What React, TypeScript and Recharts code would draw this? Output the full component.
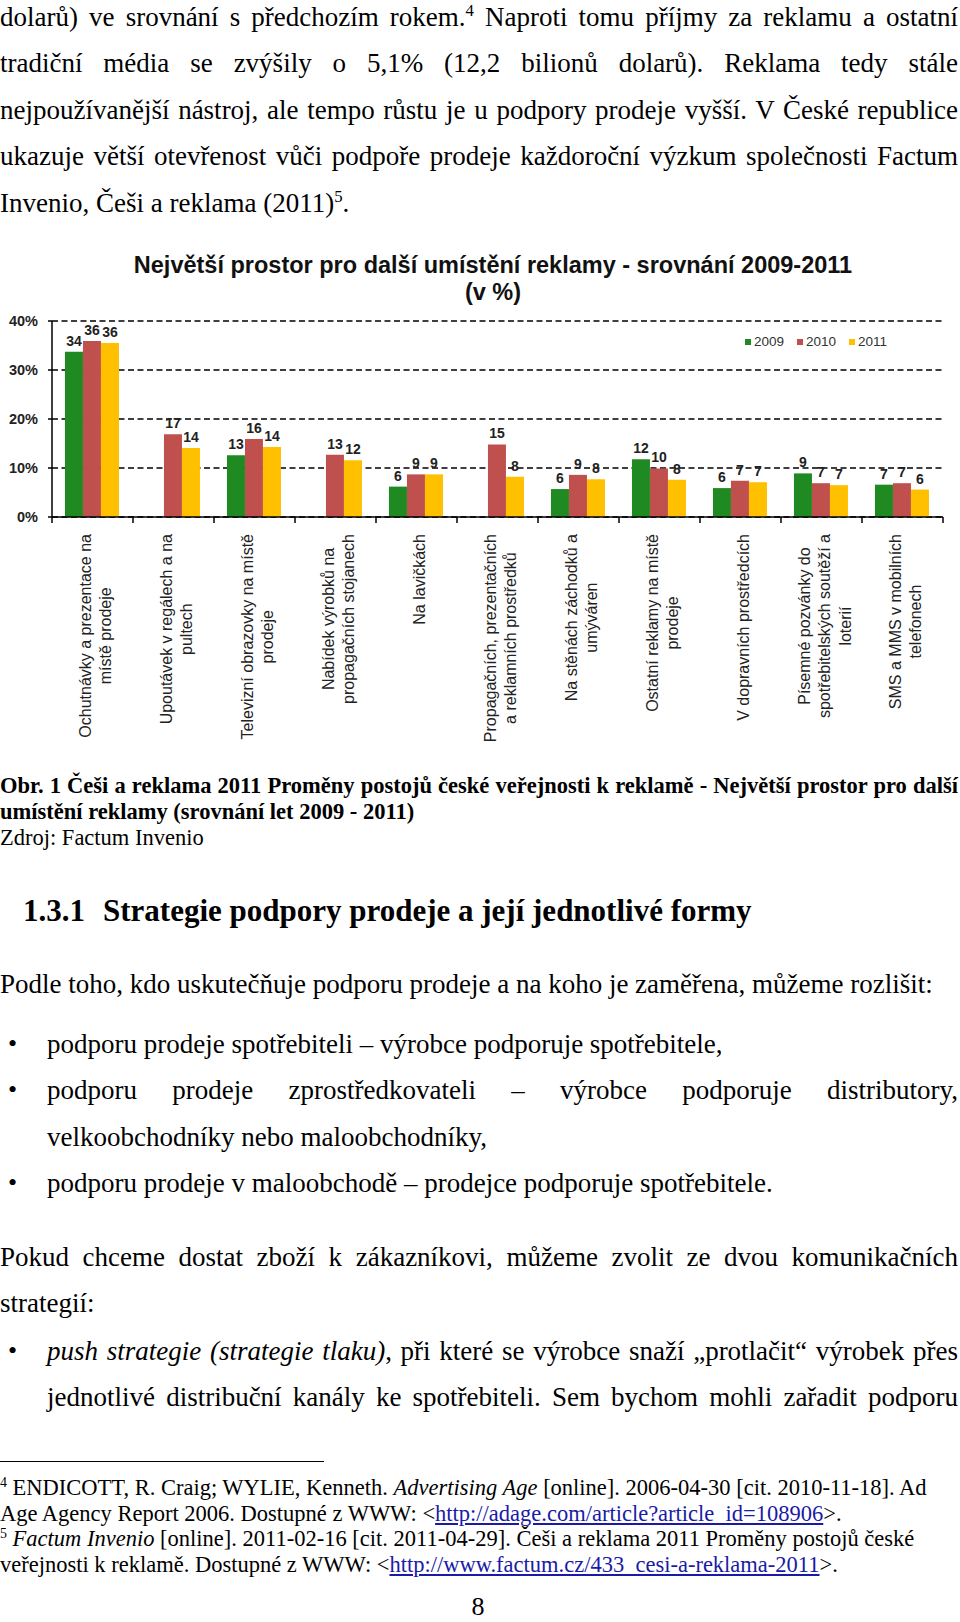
import React from 'react';
import { BarChart, Bar, XAxis, YAxis, CartesianGrid, Legend, LabelList } from 'recharts';

const categories = [
  'Ochutnávky a prezentace na\nmístě prodeje',
  'Upoutávek v regálech a na\npultech',
  'Televizní obrazovky na místě\nprodeje',
  'Nabídek výrobků na\npropagačních stojanech',
  'Na lavičkách',
  'Propagačních, prezentačních\na reklamních prostředků',
  'Na stěnách záchodků a\numýváren',
  'Ostatní reklamy na místě\nprodeje',
  'V dopravních prostředcích',
  'Písemné pozvánky do\nspotřebitelských soutěží a\nloterií',
  'SMS a MMS v mobilních\ntelefonech',
];

const years = ['2009', '2010', '2011'];
const values2009 = [33.7, null, 12.6, null, 6.2, null, 5.7, 11.8, 5.9, 8.9, 6.6];
const values2010 = [35.9, 16.9, 15.9, 12.7, 8.7, 14.8, 8.6, 9.9, 7.4, 6.9, 6.9];
const values2011 = [35.5, 14.1, 14.3, 11.6, 8.7, 8.2, 7.7, 7.6, 7.1, 6.5, 5.6];
const yTicks = [0, 10, 20, 30, 40];

const colors = ['#1f8a22', '#c0504d', '#ffc000'];

const data = categories.map((name, i) => ({
  name,
  y2009: values2009[i],
  y2010: values2010[i],
  y2011: values2011[i],
}));

const sans = '"Liberation Sans", Arial, sans-serif';
const serif = '"Liberation Serif", "Times New Roman", serif';

const CHART_W = 960;
const CHART_H = 520;
const MARGIN = { top: 81, right: 17, left: 0, bottom: 0 };
const Y_AXIS_W = 52;
const BAND = (CHART_W - MARGIN.left - MARGIN.right - Y_AXIS_W) / categories.length;
const LABEL_FONT = 16;

let ctx: CanvasRenderingContext2D | null = null;
const measure = (s: string) => {
  if (!ctx) ctx = document.createElement('canvas').getContext('2d');
  if (!ctx) return s.length * 8;
  ctx.font = `${LABEL_FONT}px "Liberation Sans"`;
  return ctx.measureText(s).width;
};

const CategoryTick = (props: any) => {
  const { x, y, payload, index } = props;
  const lines = String(payload.value).split('\n');
  const maxW = Math.max(...lines.map(measure));
  const cy = y + 17 + maxW / 2;
  return (
    <g>
      <line x1={x - BAND / 2} x2={x - BAND / 2} y1={y} y2={y + 6} stroke="#000" strokeWidth={1.5} />
      {index === categories.length - 1 && (
        <line x1={x + BAND / 2} x2={x + BAND / 2} y1={y} y2={y + 6} stroke="#000" strokeWidth={1.5} />
      )}
      {lines.map((l, i) => {
        const lx = x + 3 + (i - (lines.length - 1) / 2) * 20.5;
        return (
          <text
            key={i}
            x={lx}
            y={cy}
            transform={`rotate(-90 ${lx} ${cy})`}
            textAnchor="middle"
            dominantBaseline="central"
            fontSize={LABEL_FONT}
            fontFamily={sans}
            fill="#222"
          >
            {l}
          </text>
        );
      })}
    </g>
  );
};

const renderValue = (props: any) => {
  const { x, y, width, value } = props;
  if (value == null) return null;
  return (
    <text x={x + width / 2} y={y - 6} textAnchor="middle" fontSize={14} fontWeight="bold" fontFamily={sans} fill="#222">
      {Math.round(value)}
    </text>
  );
};

const renderLegend = (props: any) => (
  <div style={{ display: 'flex', fontFamily: sans, fontSize: 13.5, color: '#333', lineHeight: '16px' }}>
    {(props.payload || []).map((p: any) => (
      <div key={p.value} style={{ display: 'flex', alignItems: 'center', marginRight: 13 }}>
        <span style={{ width: 6, height: 6, background: p.color, marginRight: 3, display: 'inline-block' }} />
        <span>{p.value}</span>
      </div>
    ))}
  </div>
);

const Line = ({ y, left = 0, right = 958, size = 27, justify = false, bold = false, children }: any) => (
  <div
    style={{
      position: 'absolute',
      top: y - size / 2 - 1,
      left,
      width: right - left,
      fontFamily: serif,
      fontSize: size,
      lineHeight: `${size}px`,
      fontWeight: bold ? 'bold' : 'normal',
      whiteSpace: 'nowrap',
      textAlign: justify ? 'justify' : 'left',
      textAlignLast: justify ? 'justify' : 'auto',
      color: '#000',
    }}
  >
    {children}
  </div>
);

const Bullet = ({ y, size = 26 }: any) => (
  <div style={{ position: 'absolute', top: y - size / 2 - 1, left: 8, fontFamily: serif, fontSize: size, lineHeight: `${size}px` }}>•</div>
);

const sup = { fontSize: '0.62em', verticalAlign: 'super', lineHeight: 0 } as const;
const link = { color: '#1a1aa8', textDecoration: 'underline' } as const;
const titleStyle = {
  position: 'absolute',
  left: 0,
  width: 986,
  textAlign: 'center',
  fontFamily: sans,
  fontWeight: 'bold',
  fontSize: 23.5,
  lineHeight: '26px',
  color: '#111',
} as const;

export default function App() {
  return (
    <div style={{ position: 'absolute', top: 0, left: 0, width: 960, height: 1622, background: '#fff', overflow: 'hidden' }}>
      <Line y={18} justify>
        dolarů) ve srovnání s předchozím rokem.<span style={sup}>4</span> Naproti tomu příjmy za reklamu a ostatní
      </Line>
      <Line y={64} justify>
        tradiční média se zvýšily o 5,1% (12,2 bilionů dolarů). Reklama tedy stále
      </Line>
      <Line y={111} justify>
        nejpoužívanější nástroj, ale tempo růstu je u podpory prodeje vyšší. V České republice
      </Line>
      <Line y={157} justify>
        ukazuje větší otevřenost vůči podpoře prodeje každoroční výzkum společnosti Factum
      </Line>
      <Line y={204}>
        Invenio, Češi a reklama (2011)<span style={sup}>5</span>.
      </Line>

      <div style={{ ...titleStyle, top: 252 }}>Největší prostor pro další umístění reklamy - srovnání 2009-2011</div>
      <div style={{ ...titleStyle, top: 279 }}>(v %)</div>

      <div style={{ position: 'absolute', top: 240, left: 0 }}>
        <BarChart width={CHART_W} height={CHART_H} data={data} margin={MARGIN} barCategoryGap="16%" barGap={0}>
          <CartesianGrid vertical={false} stroke="#000" strokeDasharray="6 3.5" strokeWidth={1.4} />
          <XAxis
            dataKey="name"
            height={CHART_H - MARGIN.top - 196}
            interval={0}
            axisLine={{ stroke: '#000', strokeWidth: 1.5 }}
            tickLine={false}
            tickSize={0}
            tickMargin={0}
            tick={<CategoryTick />}
          />
          <YAxis
            width={Y_AXIS_W}
            domain={[0, 40]}
            ticks={yTicks}
            interval={0}
            tickFormatter={(v: number) => `${v}%`}
            axisLine={{ stroke: '#000', strokeWidth: 1.5 }}
            tickLine={{ stroke: '#000', strokeWidth: 1.5 }}
            tickSize={4}
            tickMargin={10}
            tick={{ fontSize: 14.5, fontWeight: 'bold', fill: '#222', fontFamily: sans }}
          />
          <Legend layout="vertical" align="center" verticalAlign="middle" content={renderLegend} wrapperStyle={{ top: 94, left: 745, width: 180 }} />
          <Bar dataKey="y2009" name={years[0]} fill={colors[0]} isAnimationActive={false}>
            <LabelList dataKey="y2009" content={renderValue} />
          </Bar>
          <Bar dataKey="y2010" name={years[1]} fill={colors[1]} isAnimationActive={false}>
            <LabelList dataKey="y2010" content={renderValue} />
          </Bar>
          <Bar dataKey="y2011" name={years[2]} fill={colors[2]} isAnimationActive={false}>
            <LabelList dataKey="y2011" content={renderValue} />
          </Bar>
        </BarChart>
      </div>

      <Line y={787} size={22.5} bold justify>
        Obr. 1 Češi a reklama 2011 Proměny postojů české veřejnosti k reklamě - Největší prostor pro další
      </Line>
      <Line y={813} size={22.5} bold>
        umístění reklamy (srovnání let 2009 - 2011)
      </Line>
      <Line y={839} size={22.5}>
        Zdroj: Factum Invenio
      </Line>

      <Line y={911} left={23} size={31} bold>
        1.3.1<span style={{ marginLeft: 18 }}>Strategie podpory prodeje a její jednotlivé formy</span>
      </Line>

      <Line y={985}>Podle toho, kdo uskutečňuje podporu prodeje a na koho je zaměřena, můžeme rozlišit:</Line>

      <Bullet y={1045} />
      <Line y={1045} left={47}>podporu prodeje spotřebiteli – výrobce podporuje spotřebitele,</Line>
      <Bullet y={1091} />
      <Line y={1091} left={47} justify>
        podporu prodeje zprostředkovateli – výrobce podporuje distributory,
      </Line>
      <Line y={1138} left={47}>velkoobchodníky nebo maloobchodníky,</Line>
      <Bullet y={1184} />
      <Line y={1184} left={47}>podporu prodeje v maloobchodě – prodejce podporuje spotřebitele.</Line>

      <Line y={1258} justify>
        Pokud chceme dostat zboží k zákazníkovi, můžeme zvolit ze dvou komunikačních
      </Line>
      <Line y={1304}>strategií:</Line>
      <Bullet y={1352} />
      <Line y={1352} left={47} justify>
        <i>push strategie (strategie tlaku)</i>, při které se výrobce snaží „protlačit“ výrobek přes
      </Line>
      <Line y={1398} left={47} justify>
        jednotlivé distribuční kanály ke spotřebiteli. Sem bychom mohli zařadit podporu
      </Line>

      <div style={{ position: 'absolute', top: 1461, left: 0, width: 324, height: 1, background: '#000' }} />

      <Line y={1489} size={22.5}>
        <span style={sup}>4</span> ENDICOTT, R. Craig; WYLIE, Kenneth. <i>Advertising Age</i> [online]. 2006-04-30 [cit. 2010-11-18]. Ad
      </Line>
      <Line y={1515} size={22.5}>
        Age Agency Report 2006. Dostupné z WWW: &lt;<span style={link}>http://adage.com/article?article_id=108906</span>&gt;.
      </Line>
      <Line y={1540} size={22.5}>
        <span style={sup}>5</span> <i>Factum Invenio</i> [online]. 2011-02-16 [cit. 2011-04-29]. Češi a reklama 2011 Proměny postojů české
      </Line>
      <Line y={1566} size={22.5}>
        veřejnosti k reklamě. Dostupné z WWW: &lt;<span style={link}>http://www.factum.cz/433_cesi-a-reklama-2011</span>&gt;.
      </Line>

      <div style={{ position: 'absolute', top: 1595, left: 0, width: 956, textAlign: 'center', fontFamily: serif, fontSize: 26, lineHeight: '24px' }}>
        8
      </div>
    </div>
  );
}
